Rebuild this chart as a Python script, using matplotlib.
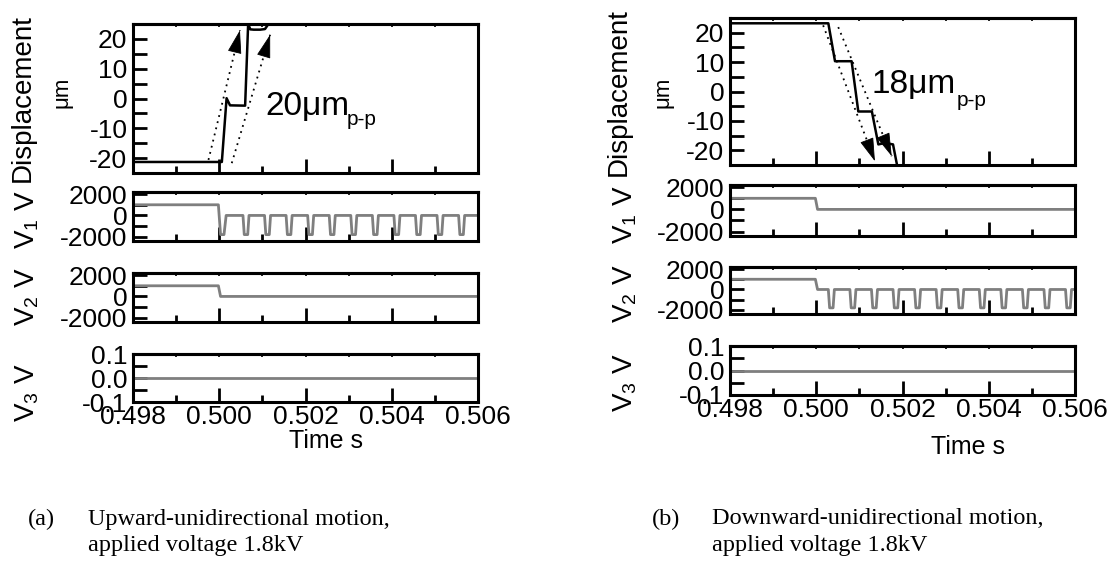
import matplotlib
matplotlib.use('Agg')
import matplotlib.pyplot as plt
from matplotlib.ticker import MultipleLocator, FormatStrFormatter

plt.rcParams['font.family'] = 'Liberation Sans'
plt.rcParams['mathtext.fontset'] = 'custom'
plt.rcParams['mathtext.rm'] = 'Liberation Sans'
plt.rcParams['mathtext.it'] = 'Liberation Sans:italic'
plt.rcParams['axes.unicode_minus'] = False

# --- data ---
t_min, t_max = 0.498, 0.506

# displacement (um), (a) upward motion
disp_a_t = [0.498, 0.50006, 0.50017, 0.50025, 0.50060, 0.50067, 0.50072, 0.50080,
            0.50095, 0.50106, 0.50114, 0.50120, 0.506]
disp_a_y = [-21.3, -21.3, 0.1, -2.3, -2.4, 25.0, 23.2, 23.1, 23.1, 23.3, 25.0, 28.0, 28.0]
arrows_a = [((0.49975, -20.6), (0.50048, 22.9)),
            ((0.50029, -21.7), (0.50118, 21.4))]

# displacement (um), (b) downward motion
disp_b_t = [0.498, 0.50028, 0.500435, 0.50082, 0.500975, 0.50129, 0.50144, 0.50159,
            0.50178, 0.50190, 0.50200, 0.506]
disp_b_y = [23.2, 23.2, 10.3, 10.3, -6.8, -6.8, -18.0, -17.5, -18.0, -27.0, -30.0, -30.0]
arrows_b = [((0.50016, 22.5), (0.50136, -23.7)),
            ((0.50051, 21.9), (0.50175, -22.0))]

# voltage levels (V)
v_before = 1000
v_after = 0
v_low = -1800
# centres of the negative pulses (s)
pulses_a = [0.50062, 0.50112, 0.50162, 0.50212, 0.50262, 0.50312, 0.50362,
            0.50412, 0.50462, 0.50512, 0.50562]
pulses_b = [0.50035, 0.50085, 0.50135, 0.50185, 0.50235, 0.50285, 0.50335,
            0.50385, 0.50435, 0.50485, 0.50535, 0.50585]
v3_t = [0.498, 0.506]
v3_y = [0.0, 0.0]

captions = [("(a)", "Upward-unidirectional motion,", "applied voltage 1.8kV"),
            ("(b)", "Downward-unidirectional motion,", "applied voltage 1.8kV")]

W, H = 1109, 585
GREY = '#7f7f7f'


def rect(l, t, r, b):
    return [l / W, 1 - b / H, (r - l) / W, (b - t) / H]


def wave(centers, start_low):
    t = [t_min, 0.49998]
    v = [v_before, v_before]
    if start_low:
        t += [0.50003, 0.50011, 0.50016]
        v += [v_low, v_low, v_after]
    else:
        t += [0.50003]
        v += [v_after]
    for c in centers:
        t += [c - 0.00007, c - 0.00004, c + 0.00004, c + 0.00007]
        v += [v_after, v_low, v_low, v_after]
    t.append(t_max)
    v.append(v_after)
    return t, v


def style_axes(ax, show_x):
    ax.set_xlim(t_min, t_max)
    for s in ax.spines.values():
        s.set_linewidth(2.2)
    ax.xaxis.set_major_locator(MultipleLocator(0.002))
    ax.xaxis.set_minor_locator(MultipleLocator(0.001))
    ax.tick_params(axis='x', which='major', direction='in', length=10, width=2,
                   labelsize=19, pad=2, labelbottom=show_x)
    ax.tick_params(axis='x', which='minor', direction='in', length=5, width=2)
    ax.tick_params(axis='y', which='both', direction='in', length=10, width=2,
                   labelsize=19, pad=4)
    ax.xaxis.set_major_formatter(FormatStrFormatter('%.3f'))
    top = ax.secondary_xaxis('top')
    top.set_xticks([0.498 + 0.001 * i for i in range(9)])
    top.tick_params(direction='in', length=2.5, width=1.2, labeltop=False)
    top.spines['top'].set_linewidth(2.2)


fig = plt.figure(figsize=(W / 100, H / 100), dpi=100)

panels = [
    dict(x0=133, x1=478, rows=[(24, 173), (192, 241), (273, 322), (354, 402)],
         disp=(disp_a_t, disp_a_y), arrows=arrows_a, pulses=pulses_a, v1_pulsed=True,
         label=("20μm", 0.50106, -5.4, 0.50296, -8.8),
         ylab_x=(23, 62, 27), ylab_y=(98, 92, 220, 297, 393), time_x=326, time_y=441,
         cap_x=28),
    dict(x0=730, x1=1075, rows=[(18, 165), (185, 236), (267, 314), (346, 395)],
         disp=(disp_b_t, disp_b_y), arrows=arrows_b, pulses=pulses_b, v1_pulsed=False,
         label=("18μm", 0.50129, -0.6, 0.50326, -5.1),
         ylab_x=(619, 663, 625), ylab_y=(92, 92, 215, 294, 383), time_x=968, time_y=447,
         cap_x=652),
]

for p in panels:
    axes = [fig.add_axes(rect(p['x0'], t, p['x1'], b)) for t, b in p['rows']]
    ax_d, ax_1, ax_2, ax_3 = axes
    for i, ax in enumerate(axes):
        style_axes(ax, i == 3)

    # displacement
    ax_d.plot(p['disp'][0], p['disp'][1], color='black', lw=1.8)
    ax_d.set_ylim(-25, 25)
    ax_d.yaxis.set_major_locator(MultipleLocator(10))
    ax_d.yaxis.set_minor_locator(MultipleLocator(5))
    # dotted guide lines with solid arrow heads
    for (xs, ys), (xe, ye) in p['arrows']:
        ax_d.plot([xs, xe], [ys, ye], color='black', lw=1.3, dashes=(1, 2.5))
        ax_d.annotate('', xy=(xe, ye),
                      xytext=(xs + 0.88 * (xe - xs), ys + 0.88 * (ye - ys)),
                      arrowprops=dict(arrowstyle='-|>,head_length=1.5,head_width=0.45',
                                      lw=0.6, color='black', shrinkA=0, shrinkB=0))
    txt, tx, ty, sx, sy = p['label']
    ax_d.text(tx, ty, txt, fontsize=24, ha='left', va='baseline')
    ax_d.text(sx, sy, 'p-p', fontsize=15, ha='left', va='baseline')

    # V1 / V2
    t1, w1 = wave(p['pulses'] if p['v1_pulsed'] else [], p['v1_pulsed'])
    t2, w2 = wave([] if p['v1_pulsed'] else p['pulses'], False)
    for ax, (tt, ww) in [(ax_1, (t1, w1)), (ax_2, (t2, w2))]:
        ax.plot(tt, ww, color=GREY, lw=2)
        ax.set_ylim(-2400, 2200)
        ax.yaxis.set_major_locator(MultipleLocator(2000))
        ax.yaxis.set_minor_locator(MultipleLocator(1000))

    # V3
    ax_3.plot(v3_t, v3_y, color=GREY, lw=2)
    ax_3.set_ylim(-0.1, 0.1)
    ax_3.yaxis.set_major_locator(MultipleLocator(0.1))
    ax_3.yaxis.set_minor_locator(MultipleLocator(0.05))
    ax_3.yaxis.set_major_formatter(FormatStrFormatter('%.1f'))

    # axis labels
    lx_d, lx_u, lx_v = p['ylab_x']
    ly_d, ly_u, ly_1, ly_2, ly_3 = p['ylab_y']
    fig.text(lx_d / W, 1 - ly_d / H, 'Displacement', rotation=90, fontsize=20,
             ha='center', va='center')
    fig.text(lx_u / W, 1 - ly_u / H, 'μm', rotation=90, fontsize=16,
             ha='center', va='center')
    for ly, n in [(ly_1, 1), (ly_2, 2), (ly_3, 3)]:
        fig.text(lx_v / W, 1 - ly / H, 'V$_{%d}$ V' % n, rotation=90, fontsize=20,
                 ha='center', va='center')
    fig.text(p['time_x'] / W, 1 - p['time_y'] / H, 'Time s', fontsize=18,
             ha='center', va='center')

# captions
for (tag, line1, line2), p in zip(captions, panels):
    cx = p['cap_x']
    fig.text(cx / W, 1 - 519 / H, tag, family='Liberation Serif', fontsize=17.5,
             ha='left', va='center')
    fig.text((cx + 60) / W, 1 - 519 / H, line1, family='Liberation Serif', fontsize=17.5,
             ha='left', va='center')
    fig.text((cx + 60) / W, 1 - 546 / H, line2, family='Liberation Serif', fontsize=17.5,
             ha='left', va='center')

fig.savefig('out.png', dpi=100)
